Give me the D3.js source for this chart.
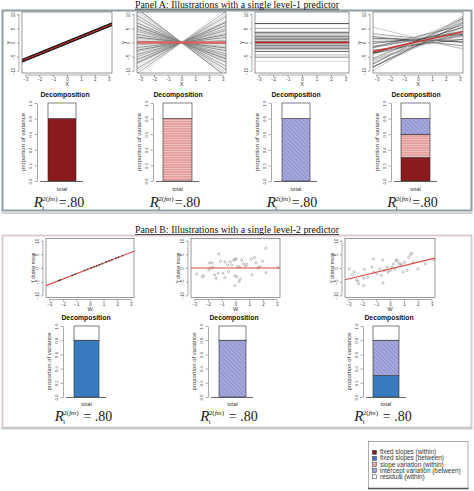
<!DOCTYPE html>
<html><head><meta charset="utf-8">
<script src="https://cdn.jsdelivr.net/npm/d3@7"></script>
<style>body{margin:0;background:#fff}svg{display:block}</style>
</head><body>
<svg id="c" width="474" height="491"></svg>
<script>
// ================= DATA =================
const panelATitle = "Panel A: Illustrations with a single level-1 predictor";
const panelBTitle = "Panel B: Illustrations with a single level-2 predictor";
const components = ["fixed slopes (within)", "fixed slopes (between)", "slope variation (within)", "intercept variation (between)", "residual (within)"];
const barCategory = ["total"];
const barTicks = [0, 0.2, 0.4, 0.6, 0.8, 1.0];
const plotTicksY = [-10, -5, 0, 5, 10];
const plotTicksX = [-3, -2, -1, 0, 1, 2, 3];
const panelAShares = [[0.8, 0, 0, 0, 0.2], [0, 0, 0.8, 0, 0.2], [0, 0, 0, 0.8, 0.2], [0.3, 0, 0.3, 0.2, 0.2]];
const panelBShares = [[0, 0.8, 0, 0, 0.2], [0, 0, 0, 0.8, 0.2], [0, 0.3, 0, 0.5, 0.2]];
const r2Value = ".80";

// Panel A, plot 1: identical slopes
const a1Intercepts = [-0.5, -0.3, -0.1, 0.1, 0.3, 0.5];
const a1Slopes = [2, 2, 2, 2, 2, 2];
const a1Mean = [0, 2];
// Panel A, plot 2: slopes vary, common intercept
const a2Slopes = [-3.7, -3.4, -3.15, -2.95, -2.7, -2.55, -2.3, -2.15, -1.95, -1.8, -1.7, -1.55, -1.45, -1.3, -1.2, -1.05, -0.9, -0.75, -0.6, -0.45, -0.3, -0.15, 0.1, 0.25, 0.4, 0.55, 0.7, 0.85, 1.0, 1.15, 1.3, 1.4, 1.55, 1.7, 1.85, 2.0, 2.2, 2.35, 2.6, 2.85, 3.1, 3.4, 3.75];
const a2Intercepts = [0, 0, 0, 0, 0, 0, 0, 0, 0, 0, 0, 0, 0, 0, 0, 0, 0, 0, 0, 0, 0, 0, 0, 0, 0, 0, 0, 0, 0, 0, 0, 0, 0, 0, 0, 0, 0, 0, 0, 0, 0, 0, 0];
const a2Mean = [0, 0];
// Panel A, plot 3: intercepts vary, no slope
const a3Intercepts = [6.7, 5.0, 3.8, 3.5, 3.2, 2.6, 2.3, 2.0, 1.5, 1.2, 0.9, 0.6, 0.3, -0.3, -0.6, -0.9, -1.2, -1.5, -2.0, -2.3, -2.6, -3.2, -4.4, -5.2, -6.7];
const a3Slopes = [0, 0, 0, 0, 0, 0, 0, 0, 0, 0, 0, 0, 0, 0, 0, 0, 0, 0, 0, 0, 0, 0, 0, 0, 0];
const a3Mean = [0, 0];
// Panel A, plot 4: both vary
const a4Intercepts = [0.5, -1, 1.2, 0.8, -0.5, 1.5, 0.2, -0.8, 2, 0.9, -1.5, 0.4, 1.1, -0.2, 0.7, 1.8, -0.6, 0.3, 1.3, -1.2, 0.6, 2.2, -0.3, 1.0, 0.1, -0.9, 1.6, 0.8, -0.4, 1.4, 0.5, 1.5];
const a4Slopes = [2.5, 1.5, 0.3, 2.0, 1.1, -0.5, 2.8, 0.6, 1.9, -0.2, 2.2, 1.3, 0.9, 2.6, 0.1, 1.7, 1.0, 2.3, 0.5, 1.6, -0.8, 1.2, 3.0, 0.7, 1.8, 2.4, 0.2, 1.4, 0.8, 2.1, -0.5, -1.2];
const a4Mean = [0.3, 1.1];

// Panel B, plot 1: cluster means on the line
const b1W = [-2.3, -2.2, -1.3, -1.1, -0.4, -0.2, 0.1, 0.3, 0.5, 0.7, 0.9, 1.2, 1.4, 1.6, 1.9, 2.1, 2.4];
const b1Y = [-4.6, -4.4, -2.7, -2.3, -0.9, -0.5, 0.1, 0.5, 0.8, 1.2, 1.6, 2.2, 2.6, 3.0, 3.6, 4.0, 4.5];
const b1Line = [-0.15, 1.95];
// Panel B, plot 2
const b2W = [-2.83, -2.32, -2.42, -1.94, -1.89, -1.72, -1.82, -1.64, -1.52, -1.41, -1.26, -1.21, -1.09, -0.91, -0.78, -0.76, -0.56, -0.51, -0.38, -0.28, -0.13, -0.03, 0.05, -0.05, -0.05, 0.1, 0.15, 0.25, 0.35, 0.45, 0.58, 0.73, 0.83, 0.3, 1.16, 1.19, 1.39, 1.49, 1.64, 1.79, 1.97, 2.2, 2.22, 3.1];
const b2Y = [-2.2, -2.8, -3.2, -0.7, 1.9, 1.8, 0.1, 0.2, -2.5, -3.8, -1.9, 5.1, 2.5, -1.9, -3.5, 2.2, 1.1, -1.3, 2.3, 1.1, 2.8, 3.2, 3.4, -2.9, -6.4, -3.2, 0.5, -5.0, -4.1, 2.9, 1.5, 0.7, 1.3, 0.5, 3.2, -2.5, 3.8, 1.9, 0.1, 0.4, 2.5, 7.2, -1.7, 0.2];
const b2Line = [0, 0];
// Panel B, plot 3
const b3W = [-2.92, -2.7, -2.58, -2.42, -2.3, -2.27, -1.88, -1.84, -1.6, -1.3, -1.18, -1.16, -0.94, -0.75, -0.63, -0.53, -0.41, -0.22, -0.14, 0.02, 0.14, 0.24, 0.34, 0.43, 0.5, 0.63, 0.7, 0.82, 0.94, 1.06, 1.23, 1.35, 1.47, 1.57, 1.67, 2.0, 2.56, 3.16, -1.9, -0.5];
const b3Y = [-0.3, -2.5, -1.3, -4.3, -4.8, -5.8, -3.7, -0.5, -3.3, 0.3, 3.3, -1.5, -2.1, -0.3, -2.7, 3.0, -0.9, 0.3, -1.5, -0.9, 0.3, 1.5, -0.3, 2.7, 3.0, 1.9, 0.9, 1.5, -1.5, 2.1, -0.9, 3.9, 4.9, 5.4, 2.1, -0.3, 1.5, 3.0, -6.4, -5.5];
const b3Line = [-0.35, 1.22];

// ================= STYLE / LAYOUT =================
const serif = "'Liberation Serif','Times New Roman',serif";
const sans = "'Liberation Sans',Arial,sans-serif";
const grayShades = ["#1a1a1a", "#8c8c8c", "#c4c4c4", "#4d4d4d", "#a8a8a8", "#6e6e6e", "#d2d2d2", "#2e2e2e", "#b5b5b5"];
const compFill = ["#8b1a1f", "#3a7bbf", "url(#pinkStripe)", "url(#lavHatch)", "#ffffff"];

const svg = d3.select("#c");
const defs = svg.append("defs");
const p1 = defs.append("pattern").attr("id", "pinkStripe").attr("patternUnits", "userSpaceOnUse").attr("width", 6).attr("height", 2.4);
p1.append("rect").attr("width", 6).attr("height", 2.4).attr("fill", "#e39a9a");
p1.append("rect").attr("y", 0).attr("width", 6).attr("height", 0.9).attr("fill", "#f3c6c6");
const p2 = defs.append("pattern").attr("id", "lavHatch").attr("patternUnits", "userSpaceOnUse").attr("width", 3).attr("height", 3).attr("patternTransform", "rotate(-45)");
p2.append("rect").attr("width", 3).attr("height", 3).attr("fill", "#a6a9dd");
p2.append("line").attr("x1", 0.5).attr("x2", 0.5).attr("y1", 0).attr("y2", 3).attr("stroke", "#8c8fcc").attr("stroke-width", 0.9);

// ---------- panel frames ----------
svg.append("rect").attr("x", 2.5).attr("y", 10.5).attr("width", 469).attr("height", 200).attr("fill", "none").attr("stroke", "#8e9ea4").attr("stroke-width", 2);
svg.append("rect").attr("x", 1.5).attr("y", 211).attr("width", 471).attr("height", 3).attr("fill", "#d3d3d3");
svg.append("rect").attr("x", 2.5).attr("y", 235.5).attr("width", 469).attr("height", 192).attr("fill", "none").attr("stroke", "#dcc8c8").attr("stroke-width", 1.8);
svg.append("rect").attr("x", 1.5).attr("y", 427).attr("width", 471).attr("height", 2.5).attr("fill", "#c9c9c9");

function title(txt, baseY) {
  svg.append("text").attr("x", 237).attr("y", baseY).attr("text-anchor", "middle")
    .attr("textLength", 204).attr("lengthAdjust", "spacingAndGlyphs")
    .style("font-family", serif).style("font-size", "10.5px").attr("fill", "#111").text(txt);
  svg.append("line").attr("x1", 135).attr("x2", 339).attr("y1", baseY + 1.3).attr("y2", baseY + 1.3).attr("stroke", "#222").attr("stroke-width", 0.8);
}
title(panelATitle, 7.8);
title(panelBTitle, 233.2);

// ---------- line/scatter plot ----------
let clipId = 0;
function plotFrame(L, xLab, yLab) {
  const g = svg.append("g");
  const x = d3.scaleLinear().domain([-3.24, 3.24]).range([L.x0, L.x1]);
  const y = d3.scaleLinear().domain([-10.8, 10.8]).range([L.y1, L.y0]);
  const id = "clip" + (clipId++);
  defs.append("clipPath").attr("id", id).append("rect").attr("x", L.x0).attr("y", L.y0).attr("width", L.x1 - L.x0).attr("height", L.y1 - L.y0);
  const content = g.append("g").attr("clip-path", `url(#${id})`);
  const ya = g.append("g").attr("transform", `translate(${L.x0 - 3},0)`)
    .call(d3.axisLeft(y).tickValues(plotTicksY).tickFormat(d3.format("d")).tickSize(2).tickSizeOuter(0));
  ya.select(".domain").remove();
  ya.append("line").attr("y1", y(-10)).attr("y2", y(10)).attr("stroke", "#555").attr("stroke-width", 0.5);
  ya.selectAll(".tick line").attr("stroke", "#555").attr("stroke-width", 0.5);
  ya.selectAll(".tick text").attr("x", 0).attr("y", 0).attr("dy", 0).attr("text-anchor", "middle")
    .attr("transform", "translate(-4.5,0) rotate(-90)").attr("fill", "#444")
    .style("font-family", sans).style("font-size", "4.5px");
  const xa = g.append("g").attr("transform", `translate(0,${L.y1 + 2})`)
    .call(d3.axisBottom(x).tickValues(plotTicksX).tickFormat(d3.format("d")).tickSize(2).tickSizeOuter(0));
  xa.select(".domain").remove();
  xa.append("line").attr("x1", x(-3)).attr("x2", x(3)).attr("stroke", "#555").attr("stroke-width", 0.5);
  xa.selectAll(".tick line").attr("stroke", "#555").attr("stroke-width", 0.5);
  xa.selectAll(".tick text").attr("y", 6).attr("dy", 0).attr("fill", "#444")
    .style("font-family", sans).style("font-size", "4.5px");
  g.append("text").attr("x", (L.x0 + L.x1) / 2).attr("y", L.y1 + 13).attr("text-anchor", "middle")
    .style("font-family", sans).style("font-size", "5.5px").attr("fill", "#333").text(xLab);
  g.append("text").attr("transform", `translate(${L.x0 - 11.5},${(L.y0 + L.y1) / 2}) rotate(-90)`).attr("text-anchor", "middle")
    .style("font-family", sans).style("font-size", yLab.length > 2 ? "4.6px" : "5.5px").attr("fill", "#333").text(yLab);
  g.append("rect").attr("x", L.x0).attr("y", L.y0).attr("width", L.x1 - L.x0).attr("height", L.y1 - L.y0)
    .attr("fill", "none").attr("stroke", "#555").attr("stroke-width", 0.6);
  return { x, y, content };
}

function lines(P, intercepts, slopes, mean, opts) {
  const [xa, xb] = P.x.domain();
  const data = intercepts.map((b, i) => ({ b, s: slopes[i], i }));
  P.content.selectAll(null).data(data).join("line")
    .attr("x1", P.x(xa)).attr("x2", P.x(xb))
    .attr("y1", d => P.y(d.b + d.s * xa)).attr("y2", d => P.y(d.b + d.s * xb))
    .attr("stroke", d => opts.black ? "#111" : grayShades[d.i % grayShades.length])
    .attr("stroke-width", opts.w);
  P.content.append("line").attr("x1", P.x(xa)).attr("x2", P.x(xb))
    .attr("y1", P.y(mean[0] + mean[1] * xa)).attr("y2", P.y(mean[0] + mean[1] * xb))
    .attr("stroke", opts.red || "#c8262b").attr("stroke-width", opts.rw || 1.2).attr("opacity", opts.ro || 1);
}

function scatter(P, ws, ys, line, dots) {
  const [xa, xb] = P.x.domain();
  const drawLine = () => P.content.append("line").attr("x1", P.x(xa)).attr("x2", P.x(xb))
    .attr("y1", P.y(line[0] + line[1] * xa)).attr("y2", P.y(line[0] + line[1] * xb))
    .attr("stroke", "#e0453f").attr("stroke-width", 1.1);
  if (dots) {
    drawLine();
    P.content.selectAll(null).data(ws).join("circle").attr("cx", d => P.x(d)).attr("cy", (d, i) => P.y(ys[i]))
      .attr("r", 0.9).attr("fill", "#333").attr("opacity", 0.8);
  } else {
    P.content.selectAll(null).data(ws).join("circle").attr("cx", d => P.x(d)).attr("cy", (d, i) => P.y(ys[i]))
      .attr("r", 1.1).attr("fill", "none").attr("stroke", "#808080").attr("stroke-width", 0.5);
    drawLine();
  }
}

// ---------- decomposition bar ----------
function decomposition(B, shares, eqText) {
  const g = svg.append("g");
  const x = d3.scaleBand().domain(barCategory).range([B.b0, B.b1]).padding(0);
  const y = d3.scaleLinear().domain([0, 1]).range([B.yb, B.yt]);
  g.append("text").attr("x", B.cx).attr("y", B.dy).attr("text-anchor", "middle")
    .style("font-family", sans).style("font-weight", "bold").style("font-size", "6.8px").attr("fill", "#111").text("Decomposition");
  const row = { total: 0 };
  components.forEach((c, i) => row[c] = shares[i]);
  const series = d3.stack().keys(components)([row]);
  series.forEach((s, i) => {
    const seg = s[0];
    if (seg[1] - seg[0] <= 0) return;
    g.append("rect").attr("x", x("total")).attr("width", x.bandwidth())
      .attr("y", y(seg[1])).attr("height", y(seg[0]) - y(seg[1]))
      .attr("fill", compFill[i]).attr("stroke", "#2a2a2a").attr("stroke-width", 0.6);
  });
  const ya = g.append("g").attr("transform", `translate(${B.ax},0)`)
    .call(d3.axisLeft(y).tickValues(barTicks).tickFormat(d3.format(".1f")).tickSize(2.5).tickSizeOuter(0));
  ya.select(".domain").attr("stroke", "#555").attr("stroke-width", 0.5);
  ya.selectAll(".tick line").attr("stroke", "#555").attr("stroke-width", 0.5);
  ya.selectAll(".tick text").attr("x", 0).attr("y", 0).attr("dy", 0).attr("text-anchor", "middle")
    .attr("transform", "translate(-5,0) rotate(-90)").attr("fill", "#444")
    .style("font-family", sans).style("font-size", "4.3px");
  g.append("text").attr("transform", `translate(${B.ax - 12},${(B.yt + B.yb) / 2}) rotate(-90)`).attr("text-anchor", "middle")
    .style("font-family", sans).style("font-size", "6px").attr("fill", "#333").text("proportion of variance");
  g.append("line").attr("x1", B.ax + 3).attr("x2", B.b1 + 7).attr("y1", y(0) + 0.5).attr("y2", y(0) + 0.5).attr("stroke", "#444").attr("stroke-width", 0.8);
  g.append("text").attr("x", x("total") + x.bandwidth() / 2).attr("y", B.ty).attr("text-anchor", "middle")
    .style("font-family", sans).style("font-size", "5.5px").attr("fill", "#333").text(barCategory[0]);
  const r = g.append("g");
  r.append("text").attr("x", 0).attr("y", 0).style("font-family", serif).style("font-style", "italic").style("font-size", "15px").attr("fill", "#222").text("R");
  r.append("text").attr("x", 8.5).attr("y", 3).style("font-family", serif).style("font-size", "7px").attr("fill", "#222").text("t");
  const sup = r.append("text").attr("x", 8.5).attr("y", -6).style("font-family", serif).style("font-size", "7px").attr("fill", "#222");
  sup.append("tspan").text("2(");
  sup.append("tspan").style("font-style", "italic").text("fm");
  sup.append("tspan").text(")");
  r.append("text").attr("x", 25).attr("y", 0).style("font-family", serif).style("font-size", "14px").attr("fill", "#222").attr("xml:space", "preserve").text(eqText);
  const bb = r.node().getBBox();
  r.attr("transform", `translate(${B.rx - (bb.x + bb.width / 2)},${B.ry})`);
}

// ---------- Panel A ----------
const aFrames = [
  { x0: 22, x1: 112, y0: 12, y1: 73 },
  { x0: 137, x1: 226, y0: 12, y1: 73 },
  { x0: 255, x1: 349, y0: 12, y1: 73 },
  { x0: 373, x1: 463, y0: 12, y1: 73 }
];
const aBars = [
  { b0: 48, b1: 76, ax: 37, cx: 65, rx: 58.5 },
  { b0: 163, b1: 192, ax: 153, cx: 178, rx: 174.5 },
  { b0: 282, b1: 310, ax: 271, cx: 296, rx: 291.5 },
  { b0: 401, b1: 430, ax: 391, cx: 416, rx: 412 }
];
const PA = aFrames.map(f => plotFrame(f, "X", "Y"));
lines(PA[0], a1Intercepts, a1Slopes, a1Mean, { black: true, w: 1.0, rw: 1.2, red: "#d0312d" });
lines(PA[1], a2Intercepts, a2Slopes, a2Mean, { w: 0.55, rw: 2.4, red: "#d85c5c", ro: 0.9 });
lines(PA[2], a3Intercepts, a3Slopes, a3Mean, { w: 0.8, rw: 1.4, red: "#c8262b" });
lines(PA[3], a4Intercepts, a4Slopes, a4Mean, { w: 0.6, rw: 1.4, red: "#d0312d" });
aBars.forEach((b, i) => decomposition(Object.assign({ yt: 103, yb: 181, dy: 96.5, ty: 191, ry: 206.5 }, b), panelAShares[i], "=" + r2Value));

// ---------- Panel B ----------
const bFrames = [
  { x0: 46, x1: 134, y0: 238.5, y1: 297.5 },
  { x0: 191, x1: 280, y0: 238.5, y1: 297.5 },
  { x0: 345, x1: 435, y0: 238.5, y1: 297.5 }
];
const bBars = [
  { b0: 74, b1: 99, ax: 63, cx: 86, rx: 83 },
  { b0: 219, b1: 246, ax: 208, cx: 234, rx: 228.5 },
  { b0: 373, b1: 399, ax: 363, cx: 389, rx: 382.5 }
];
const PB = bFrames.map(f => plotFrame(f, "W", "Y cluster mean"));
scatter(PB[0], b1W, b1Y, b1Line, true);
scatter(PB[1], b2W, b2Y, b2Line, false);
scatter(PB[2], b3W, b3Y, b3Line, false);
bBars.forEach((b, i) => decomposition(Object.assign({ yt: 326, yb: 397, dy: 319.5, ty: 406, ry: 421 }, b), panelBShares[i], " = " + r2Value));

// ---------- Legend ----------
const lg = svg.append("g");
lg.append("rect").attr("x", 368.5).attr("y", 441.5).attr("width", 99.5).attr("height", 47).attr("fill", "#fff").attr("stroke", "#8a8a8a").attr("stroke-width", 0.7);
lg.append("line").attr("x1", 368).attr("x2", 468.5).attr("y1", 488.5).attr("y2", 488.5).attr("stroke", "#555").attr("stroke-width", 1.4);
const ly = d3.scalePoint().domain(components).range([452.5, 477]);
components.forEach((c, i) => {
  lg.append("rect").attr("x", 372.5).attr("y", ly(c) - 2.2).attr("width", 4).attr("height", 4)
    .attr("fill", compFill[i]).attr("stroke", "#333").attr("stroke-width", 0.5);
  lg.append("text").attr("x", 380).attr("y", ly(c) + 1.8).style("font-family", sans).style("font-size", "6.4px").attr("fill", "#333").text(c);
});
</script>
</body></html>
